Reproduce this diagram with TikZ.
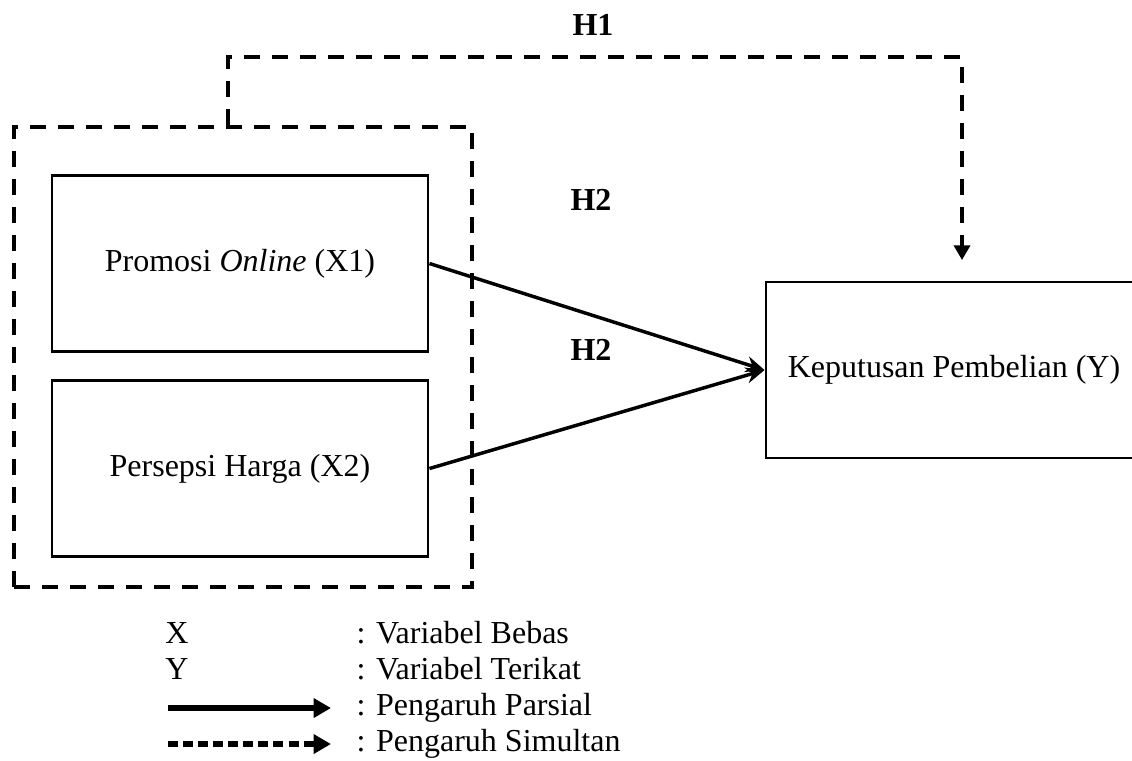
\documentclass[tikz,border=0pt]{standalone}
\usepackage{fontspec}
\setmainfont{Liberation Serif}
\usepackage{tikz}
\usetikzlibrary{arrows.meta, positioning, calc}

\begin{document}
\begin{tikzpicture}[x=0.375pt, y=-0.375pt, font={\fontsize{12pt}{14pt}\selectfont},
  varbox/.style={draw, line width=1.1pt, minimum width=141pt, minimum height=66pt, inner sep=0pt},
  simul/.style={line width=1.5pt, dash pattern=on 6pt off 4.5pt},
  parsial/.style={line width=1.3pt, -{Stealth[length=7pt, width=6pt]}},
  hyp/.style={font={\fontsize{12pt}{14pt}\selectfont\bfseries}},
  legmark/.style={inner sep=0pt, text height=7.5pt, text depth=2pt},
  legtext/.style={legmark, anchor=west}]
\useasboundingbox (0,0) rectangle (1132,760);

% ---- variables -----------------------------------------------------------
\node[varbox] (x1) at (240,263.5) {Promosi \textit{Online} (X1)};
\node[varbox] (x2) at (240,468.5) {Persepsi Harga (X2)};
\node[varbox] (y)  at (954,370)   {Keputusan Pembelian (Y)};

% ---- simultaneous frame --------------------------------------------------
\node[simul, draw, minimum width=171.75pt, minimum height=172.5pt, inner sep=0pt]
  (grp) at (243,357) {};

% ---- hypotheses ----------------------------------------------------------
\coordinate (h1L) at (228,57);
\coordinate (h1R) at (962,57);
\coordinate (h1end) at (962,260);
\draw[simul] (h1L |- grp.north) -- (h1L) -- (h1R) -- ($(h1end)+(0,-14)$);
\draw[line width=1.3pt, -{Triangle[length=5.5pt, width=6pt]}]
  ($(h1end)+(0,-16)$) -- (h1end);
\draw[parsial] (x1.east) -- (y.west);
\draw[parsial] (x2.east) -- (y.west);
\node[hyp] (h1)  at (593,25)  {H1};
\node[hyp] (h2a) at (591,200) {H2};
\node[hyp] (h2b) at (591,350) {H2};

% ---- legend --------------------------------------------------------------
\node[legmark] (lx) at (177,636) {X};
\node[legmark] (ly) at (177,672) {Y};
\node[legtext] (lxt) at (356,636) {: Variabel Bebas};
\node[legtext] (lyt) at (356,672) {: Variabel Terikat};
\node[legtext] (lpt) at (356,708) {: Pengaruh Parsial};
\node[legtext] (lst) at (356,744) {: Pengaruh Simultan};
\coordinate (pa) at (168,708);
\coordinate (pb) at (331,708);
\coordinate (sa) at (168,744);
\coordinate (sb) at (331,744);
\draw[line width=1.9pt, -{Triangle[length=6.5pt, width=7pt]}] (pa) -- (pb);
\draw[line width=1.9pt, dash pattern=on 3.75pt off 1.9pt,
  -{Triangle[length=6.5pt, width=7pt]}] (sa) -- (sb);
\end{tikzpicture}
\end{document}
